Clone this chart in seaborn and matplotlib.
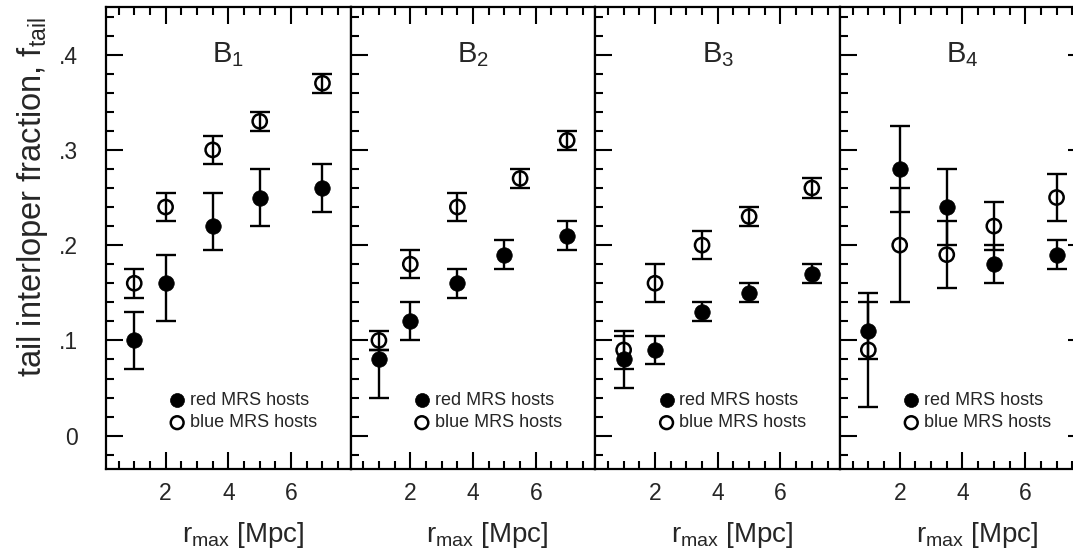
import numpy as np
import seaborn as sns
import matplotlib.pyplot as plt
from matplotlib.ticker import MultipleLocator, FuncFormatter

# values
panels = ["B$_\\mathregular{1}$", "B$_\\mathregular{2}$", "B$_\\mathregular{3}$", "B$_\\mathregular{4}$"]

red_x = [[1, 2, 3.5, 5, 7], [1, 2, 3.5, 5, 7], [1, 2, 3.5, 5, 7], [1, 2, 3.5, 5, 7]]
red_y = [[0.10, 0.16, 0.22, 0.25, 0.26],
         [0.08, 0.12, 0.16, 0.19, 0.21],
         [0.08, 0.09, 0.13, 0.15, 0.17],
         [0.11, 0.28, 0.24, 0.18, 0.19]]
red_lo = [[0.03, 0.04, 0.025, 0.03, 0.025],
          [0.04, 0.02, 0.015, 0.015, 0.015],
          [0.03, 0.015, 0.01, 0.01, 0.01],
          [0.03, 0.045, 0.04, 0.02, 0.015]]
red_hi = [[0.03, 0.03, 0.035, 0.03, 0.025],
          [0.01, 0.02, 0.015, 0.015, 0.015],
          [0.025, 0.015, 0.01, 0.01, 0.01],
          [0.03, 0.045, 0.04, 0.02, 0.015]]

blue_x = [[1, 2, 3.5, 5, 7], [1, 2, 3.5, 5.5, 7], [1, 2, 3.5, 5, 7], [1, 2, 3.5, 5, 7]]
blue_y = [[0.16, 0.24, 0.30, 0.33, 0.37],
          [0.10, 0.18, 0.24, 0.27, 0.31],
          [0.09, 0.16, 0.20, 0.23, 0.26],
          [0.09, 0.20, 0.19, 0.22, 0.25]]
blue_err = [[0.015, 0.015, 0.015, 0.01, 0.01],
            [0.01, 0.015, 0.015, 0.01, 0.01],
            [0.02, 0.02, 0.015, 0.01, 0.01],
            [0.06, 0.06, 0.035, 0.025, 0.025]]

y_ticks = [0, 0.1, 0.2, 0.3, 0.4]
x_ticks = [2, 4, 6]

sns.set_theme(style="ticks")
plt.rcParams['font.family'] = ['Liberation Sans', 'DejaVu Sans']
plt.rcParams['axes.linewidth'] = 1.6

fig = plt.figure(figsize=(10.73, 5.58), dpi=100)

W = 244.7 / 1073
H = 462 / 558
for i in range(4):
    left = (106 + i * 244.7) / 1073
    ax = fig.add_axes([left, 89 / 558, W, H])

    ax.errorbar(red_x[i], red_y[i], yerr=[red_lo[i], red_hi[i]], fmt='none',
                ecolor='black', elinewidth=1.7, capsize=7, capthick=1.7, zorder=2)
    ax.errorbar(blue_x[i], blue_y[i], yerr=blue_err[i], fmt='none',
                ecolor='black', elinewidth=1.7, capsize=7, capthick=1.7, zorder=2)
    sns.scatterplot(x=red_x[i], y=red_y[i], ax=ax, marker='o', s=125,
                    color='black', edgecolor='black', linewidth=0.5,
                    label='red MRS hosts', zorder=3)
    sns.scatterplot(x=blue_x[i], y=blue_y[i], ax=ax, marker='o', s=105,
                    facecolors='none', edgecolor='black', linewidth=1.8,
                    label='blue MRS hosts', zorder=3)

    ax.set_xlim(0.1, 7.9)
    ax.set_ylim(-0.035, 0.45)
    ax.set_xticks(x_ticks)
    ax.xaxis.set_minor_locator(MultipleLocator(0.5))
    ax.set_yticks(y_ticks)
    ax.yaxis.set_minor_locator(MultipleLocator(0.02))
    ax.tick_params(which='both', direction='in', top=True, bottom=True,
                   left=True, right=False, width=1.5, color='black')
    ax.tick_params(which='major', length=12, labelsize=16.5, pad=9)
    ax.tick_params(which='minor', length=6)
    ax.tick_params(axis='y', which='major', pad=20)
    if i == 3:
        ax.tick_params(axis='y', which='major', right=True)
    if i == 0:
        ax.yaxis.set_major_formatter(FuncFormatter(
            lambda v, p: '0' if abs(v) < 1e-9 else ('%.1f' % v).lstrip('0')))
    else:
        ax.set_yticklabels([])

    for sp in ax.spines.values():
        sp.set_color('black')

    ax.text(0.5, 0.40, panels[i], transform=ax.get_yaxis_transform(),
            ha='center', va='center', fontsize=21)

    ax.set_xlabel("r$_\\mathregular{max}$ [Mpc]", fontsize=20)
    ax.xaxis.set_label_coords(0.56, -0.11)
    ax.set_ylabel("")

    leg = ax.legend(loc='center left', bbox_to_anchor=(0.265, 0.124),
                    frameon=False, fontsize=13, handlelength=0.7,
                    handletextpad=0.35, labelspacing=0.3, borderpad=0,
                    borderaxespad=0, markerscale=0.9)

fig.text(33 / 1073, 1 - 197 / 558, "tail interloper fraction, f$_\\mathregular{tail}$",
         rotation=90, ha='center', va='center', fontsize=23.5)

plt.savefig("out.png", dpi=100)
plt.close()
